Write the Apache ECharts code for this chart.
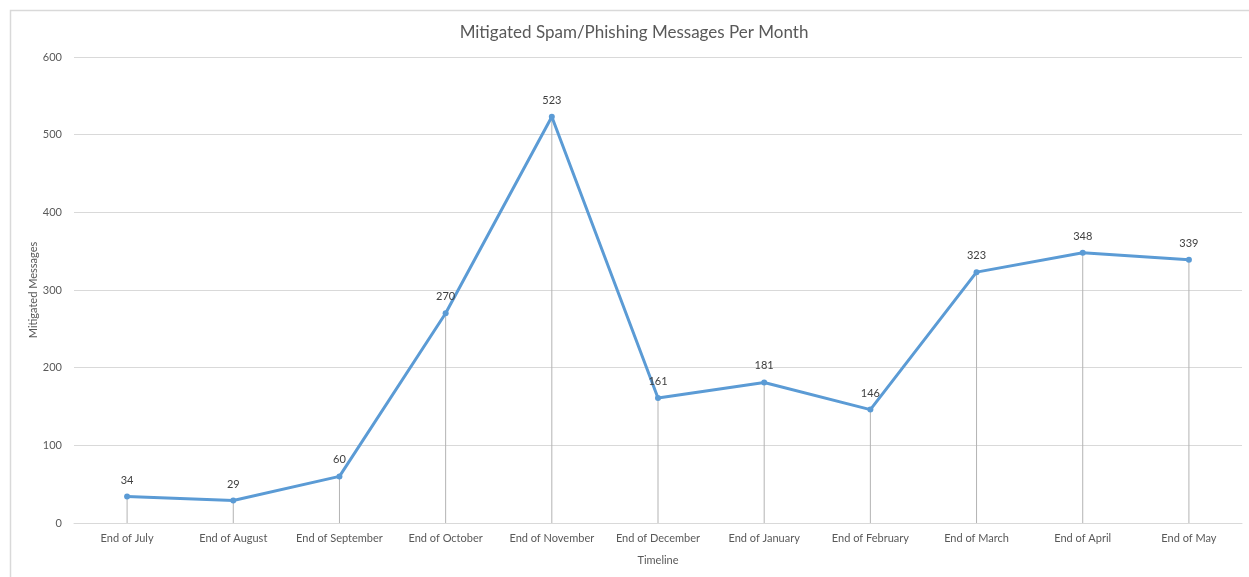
<!DOCTYPE html>
<html><head><meta charset="utf-8">
<script src="https://cdn.jsdelivr.net/npm/echarts@6/dist/echarts.min.js"></script>
<style>html,body{margin:0;padding:0;background:#fff}#c{width:1249px;height:577px}</style>
</head><body><div id="c"></div>
<script>
const categories = ["End of July","End of August","End of September","End of October","End of November","End of December","End of January","End of February","End of March","End of April","End of May"];
const mitigated = [34, 29, 60, 270, 523, 161, 181, 146, 323, 348, 339];
const yTicks = [0, 100, 200, 300, 400, 500, 600];
const titleText = "Mitigated Spam/Phishing Messages Per Month";
const yName = "Mitigated Messages";
const xName = "Timeline";

const FONT = "Lato, 'Open Sans', sans-serif";
const chart = echarts.init(document.getElementById('c'), null, {renderer: 'canvas'});
chart.setOption({
  animation: false,
  backgroundColor: '#fff',
  graphic: [{
    type: 'rect', left: 8, top: 8, shape: {x: 0, y: 0, width: 1260, height: 600},
    style: {fill: 'none', stroke: '#d9d9d9', lineWidth: 1.5}, z: -1
  }],
  title: {
    text: titleText, left: 629, top: 19, textAlign: 'center',
    textStyle: {fontFamily: FONT, fontSize: 17, fontWeight: 'normal', color: '#595959'}
  },
  grid: {left: 74, right: 7, top: 57, bottom: 54, containLabel: false},
  xAxis: {
    type: 'category', data: categories, boundaryGap: true,
    name: xName, nameLocation: 'middle', nameGap: 32,
    nameTextStyle: {fontFamily: FONT, fontSize: 11, color: '#595959'},
    axisLine: {lineStyle: {color: '#d9d9d9', width: 1}},
    axisTick: {show: false},
    axisLabel: {fontFamily: FONT, fontSize: 11, color: '#595959', margin: 10, interval: 0}
  },
  yAxis: {
    type: 'value', min: yTicks[0], max: yTicks[yTicks.length - 1], interval: 100,
    name: yName, nameLocation: 'middle', nameGap: 35, nameRotate: 90, nameMoveOverlap: false,
    nameTextStyle: {fontFamily: FONT, fontSize: 11, color: '#595959'},
    axisLine: {show: false}, axisTick: {show: false},
    axisLabel: {fontFamily: FONT, fontSize: 11, color: '#595959', margin: 12},
    splitLine: {lineStyle: {color: '#d9d9d9', width: 1}}
  },
  series: [{
    type: 'bar', data: mitigated, barWidth: 1, silent: true,
    itemStyle: {color: '#b3b3b3'}, z: 1
  }, {
    type: 'line', data: mitigated, symbol: 'circle', symbolSize: 6,
    lineStyle: {color: '#5b9bd5', width: 3},
    itemStyle: {color: '#5b9bd5'},
    label: {show: true, position: 'top', distance: 8, fontFamily: FONT, fontSize: 11, color: '#404040'},
    z: 3
  }]
});
</script></body></html>
